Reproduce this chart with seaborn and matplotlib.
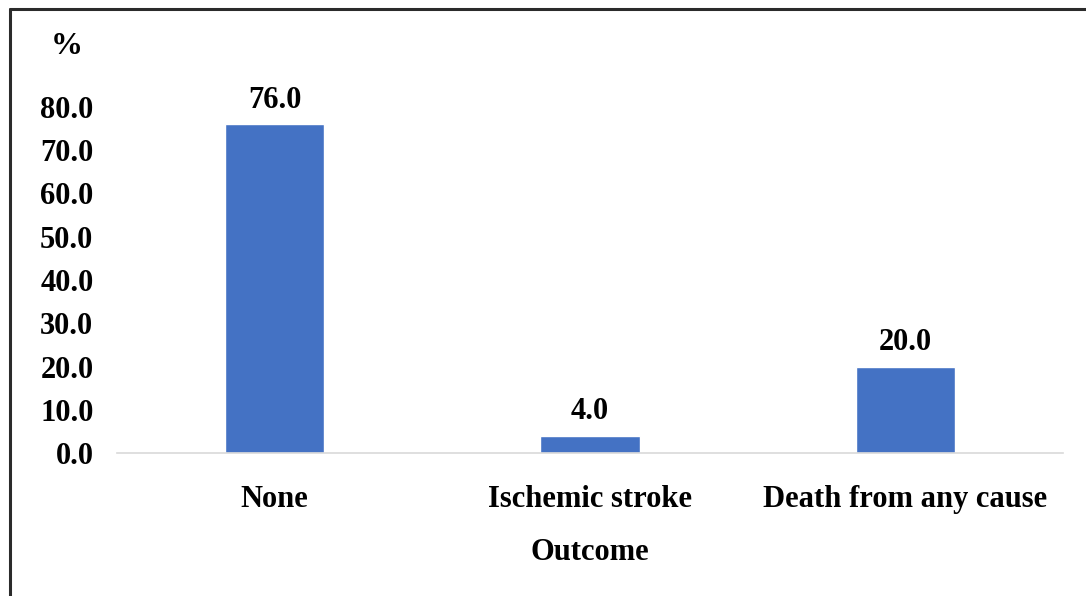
import matplotlib
matplotlib.use("Agg")
import matplotlib.pyplot as plt
import seaborn as sns
import pandas as pd
from matplotlib.lines import Line2D

categories = ["None", "Ischemic stroke", "Death from any cause"]
values = [76.0, 4.0, 20.0]
yticks = [0, 10, 20, 30, 40, 50, 60, 70, 80]

sns.set_theme(style="white")
plt.rcParams["font.family"] = ["Liberation Serif", "DejaVu Serif"]
plt.rcParams["font.weight"] = "bold"
plt.rcParams["text.color"] = "black"
plt.rcParams["xtick.color"] = "black"
plt.rcParams["ytick.color"] = "black"
plt.rcParams["axes.labelcolor"] = "black"

df = pd.DataFrame({"Outcome": categories, "pct": values})

fig = plt.figure(figsize=(10.86, 5.96), dpi=100)
ax = fig.add_axes([117/1086, 1-453/596, (1063-117)/1086, (453-107)/596])

sns.barplot(data=df, x="Outcome", y="pct", color="#4472C4", width=0.314,
            saturation=1, ax=ax)
ax.set_ylim(0, 80)
ax.set_xlim(-0.5, 2.5)
ax.set_yticks(yticks)
ax.set_yticklabels([f"{v:.1f}" for v in yticks], fontsize=22, fontweight="bold")
ax.tick_params(axis="y", length=0, pad=17)
ax.tick_params(axis="x", length=0, pad=23, labelsize=22)
for lab in ax.get_xticklabels():
    lab.set_fontweight("bold")
ax.set_ylabel("")
ax.set_xlabel("Outcome", fontsize=22, fontweight="bold", labelpad=17)

for s in ["top", "right", "left"]:
    ax.spines[s].set_visible(False)
ax.spines["bottom"].set_color("#d9d9d9")
ax.spines["bottom"].set_linewidth(1.2)

for c in ax.containers:
    ax.bar_label(c, labels=[f"{v:.1f}" for v in values], padding=7,
                 fontsize=22, fontweight="bold", color="black")

fig.text(67/1086, 1-46/596, "%", ha="center", va="center", fontsize=23,
         fontweight="bold", color="black")

# figure border (left and top)
fig.add_artist(Line2D([10/1086, 10/1086], [0, 1-9/596], transform=fig.transFigure,
                      color="#2b2b2b", lw=2.2))
fig.add_artist(Line2D([10/1086, 1], [1-9/596, 1-9/596], transform=fig.transFigure,
                      color="#2b2b2b", lw=2.2))

fig.savefig("out.png", dpi=100)
